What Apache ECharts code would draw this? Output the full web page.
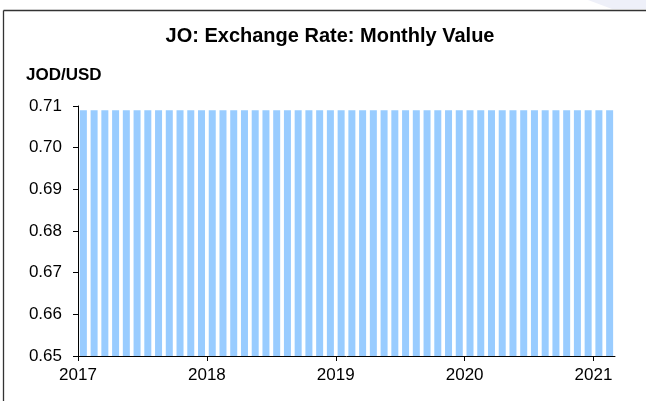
<!DOCTYPE html>
<html>
<head>
<meta charset="utf-8">
<script src="https://cdn.jsdelivr.net/npm/echarts@6/dist/echarts.min.js"></script>
<style>
html,body{margin:0;padding:0;background:#fff;}
#chart{width:646px;height:401px;}
</style>
</head>
<body>
<div id="chart"></div>
<script>
var titleText = 'JO: Exchange Rate: Monthly Value';
var unitText = 'JOD/USD';
var months = [
  '2017-01','2017-02','2017-03','2017-04','2017-05','2017-06','2017-07','2017-08','2017-09','2017-10','2017-11','2017-12',
  '2018-01','2018-02','2018-03','2018-04','2018-05','2018-06','2018-07','2018-08','2018-09','2018-10','2018-11','2018-12',
  '2019-01','2019-02','2019-03','2019-04','2019-05','2019-06','2019-07','2019-08','2019-09','2019-10','2019-11','2019-12',
  '2020-01','2020-02','2020-03','2020-04','2020-05','2020-06','2020-07','2020-08','2020-09','2020-10','2020-11','2020-12',
  '2021-01','2021-02'
];
var rates = [
  0.709,0.709,0.709,0.709,0.709,0.709,0.709,0.709,0.709,0.709,0.709,0.709,
  0.709,0.709,0.709,0.709,0.709,0.709,0.709,0.709,0.709,0.709,0.709,0.709,
  0.709,0.709,0.709,0.709,0.709,0.709,0.709,0.709,0.709,0.709,0.709,0.709,
  0.709,0.709,0.709,0.709,0.709,0.709,0.709,0.709,0.709,0.709,0.709,0.709,
  0.709,0.709
];
var yearTicks = [2017, 2018, 2019, 2020, 2021];
var yTicks = [0.65, 0.66, 0.67, 0.68, 0.69, 0.70, 0.71];

var FONT = 'Arial, "Liberation Sans", sans-serif';
var chart = echarts.init(document.getElementById('chart'), null, {renderer: 'canvas'});

var plotLeft = 78, plotRight = 31, plotTop = 106, plotBottom = 45;
var plotWidth = 646 - plotLeft - plotRight;
var monthsShown = months.length;
var yearSpanShown = yearTicks.length; // one extra year so last tick lies off-canvas
var yearGridWidth = plotWidth * (yearSpanShown * 12) / monthsShown;

chart.setOption({
  animation: false,
  backgroundColor: '#ffffff',
  title: [
    {
      text: titleText, left: 330, top: 26, textAlign: 'center', padding: 0,
      textStyle: {fontFamily: FONT, fontSize: 20, fontWeight: 'bold', color: '#000'}
    },
    {
      text: unitText, left: 26, top: 67, padding: 0,
      textStyle: {fontFamily: FONT, fontSize: 17, fontWeight: 'bold', color: '#000'}
    }
  ],
  graphic: [
    {type: 'polygon', silent: true, shape: {points: [[588, 0], [646, 0], [646, 9], [612, 9]]},
      style: {fill: '#eef0f9'}},
    {type: 'line', silent: true, shape: {x1: 3.5, y1: 10.5, x2: 646, y2: 10.5},
      style: {stroke: '#333', lineWidth: 1.3}},
    {type: 'line', silent: true, shape: {x1: 3.5, y1: 10.5, x2: 3.5, y2: 401},
      style: {stroke: '#333', lineWidth: 1.3}}
  ],
  grid: [
    {left: plotLeft, right: plotRight, top: plotTop, bottom: plotBottom, containLabel: false, outerBoundsMode: 'none'},
    {left: plotLeft, width: yearGridWidth, top: plotTop, bottom: plotBottom, containLabel: false, outerBoundsMode: 'none'}
  ],
  xAxis: [
    {
      type: 'category', gridIndex: 0, data: months, boundaryGap: true,
      axisLine: {show: true, lineStyle: {color: '#000', width: 1}},
      axisTick: {show: false}, axisLabel: {show: false}, splitLine: {show: false}
    },
    {
      type: 'value', gridIndex: 1, min: yearTicks[0], max: yearTicks[0] + yearSpanShown, interval: 1,
      axisLine: {show: false},
      axisTick: {show: true, length: 5, lineStyle: {color: '#000', width: 1}},
      axisLabel: {show: true, margin: 11, fontFamily: FONT, fontSize: 17, color: '#000',
        formatter: function (v) { return String(Math.round(v)); }},
      splitLine: {show: false}
    }
  ],
  yAxis: [
    {
      type: 'value', gridIndex: 0, min: yTicks[0], max: yTicks[yTicks.length - 1], interval: 0.01,
      axisLine: {show: true, lineStyle: {color: '#000', width: 1}},
      axisTick: {show: true, length: 5, lineStyle: {color: '#000', width: 1}},
      axisLabel: {show: true, margin: 16, fontFamily: FONT, fontSize: 17, color: '#000',
        formatter: function (v) { return v.toFixed(2); }},
      splitLine: {show: false}
    },
    {type: 'value', gridIndex: 1, show: false, min: 0, max: 1}
  ],
  series: [
    {
      type: 'bar', xAxisIndex: 0, yAxisIndex: 0, data: rates, barWidth: 7,
      itemStyle: {color: '#99ccff'}
    }
  ]
});
</script>
</body>
</html>
